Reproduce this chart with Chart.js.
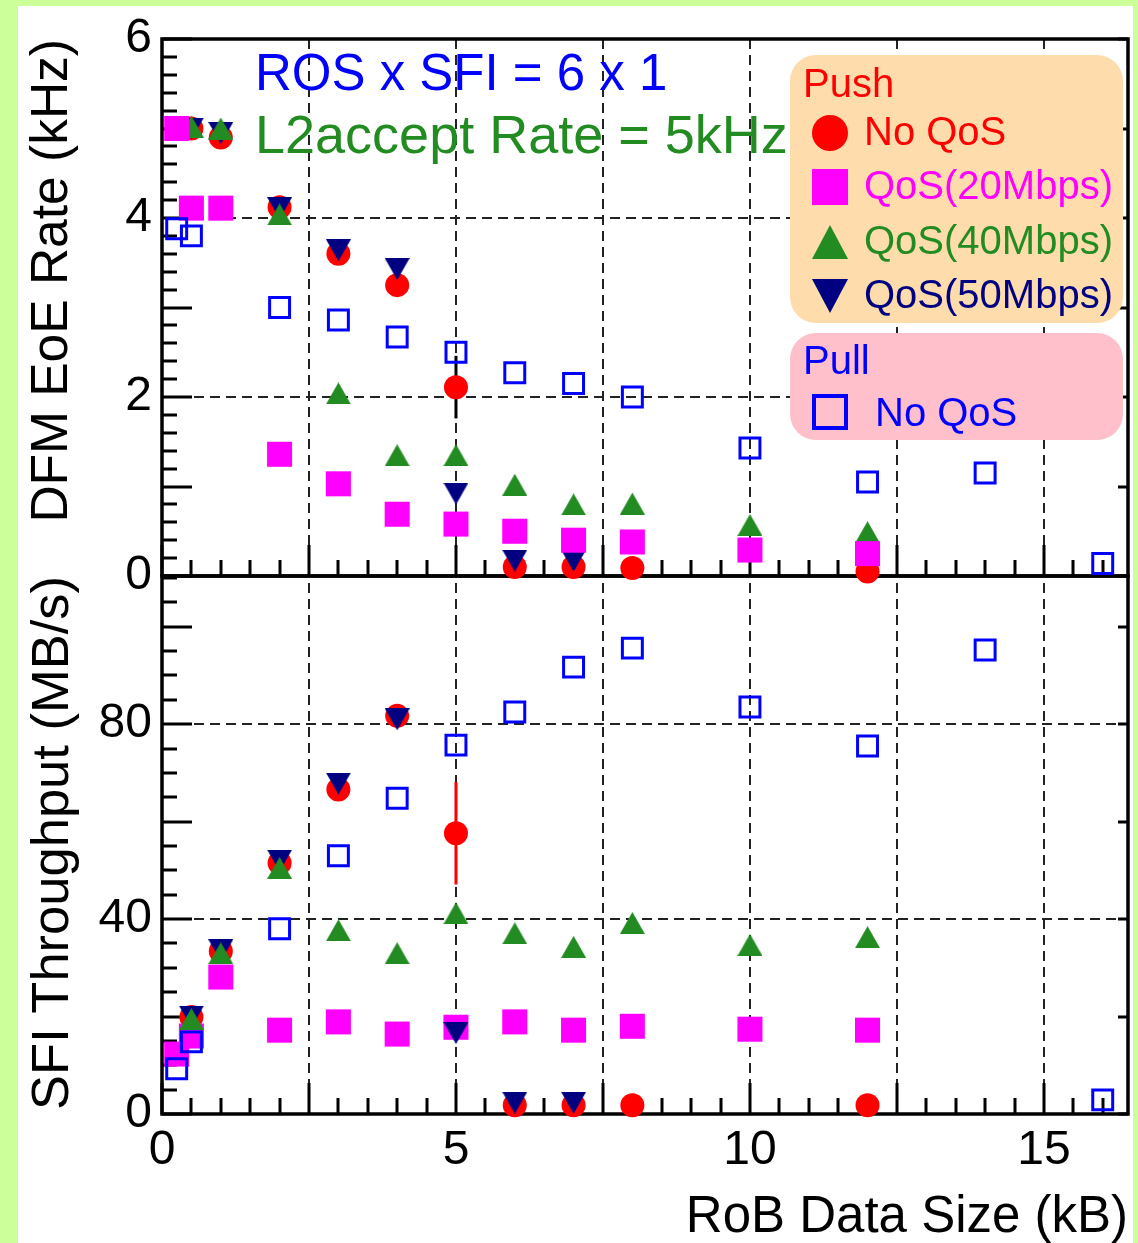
<!DOCTYPE html>
<html>
<head>
<meta charset="utf-8">
<script src="https://cdn.jsdelivr.net/npm/chart.js@4.4.0/dist/chart.umd.min.js"></script>
<style>
  html, body { margin: 0; padding: 0; background: #ccff99; overflow: hidden; }
  canvas { display: block; }
</style>
</head>
<body>
<canvas id="dfmChart" width="1138" height="1243"></canvas>
<script>
// RoB data size (kB) of each measurement
const robSizes = [0.25, 0.5, 1, 2, 3, 4, 5, 6, 7, 8, 10, 12, 14, 16];

// top panel: DFM EoE rate (kHz), null = no point
const rateNoQos = [null, 5.00, 4.90, 4.12, 3.60, 3.25, 2.11, 0.10, 0.10, 0.09, null, 0.05, null, null];
const rateQos20 = [5.00, 4.11, 4.11, 1.36, 1.03, 0.69, 0.58, 0.50, 0.40, 0.38, 0.29, 0.25, null, null];
const rateQos40 = [null, 5.02, 5.00, 4.04, 2.04, 1.35, 1.35, 1.02, 0.80, 0.81, 0.57, 0.49, null, null];
const rateQos50 = [null, 5.00, 4.95, 4.11, 3.64, 3.43, 0.92, 0.17, 0.17, null, null, null, null, null];
const ratePull  = [3.88, 3.80, null, 3.00, 2.86, 2.67, 2.50, 2.27, 2.15, 2.00, 1.43, 1.05, 1.15, 0.14];
const rateNoQosErr = [0, 0, 0, 0, 0, 0, 0.35, 0, 0, 0, 0, 0, 0, 0];

// bottom panel: SFI throughput (MB/s)
const tputNoQos = [null, 19.9, 33.4, 51.5, 66.6, 81.7, 57.6, 1.8, 1.8, 1.8, null, 1.8, null, null];
const tputQos20 = [12.3, 16.0, 28.1, 17.2, 18.9, 16.4, 17.8, 18.9, 17.2, 18.0, 17.4, 17.2, null, null];
const tputQos40 = [null, 19.5, 33.0, 50.5, 37.7, 33.0, 41.2, 37.1, 34.3, 39.2, 34.7, 36.3, null, null];
const tputQos50 = [null, 20.0, 33.6, 52.0, 67.8, 81.0, 16.6, 2.3, 2.3, null, null, null, null, null];
const tputPull  = [9.3, 14.8, null, 38.0, 53.0, 64.8, 75.7, 82.5, 91.7, 95.6, 83.5, 75.5, 95.2, 2.9];
const tputNoQosErr = [0, 0, 0, 0, 0, 0, 10.5, 0, 0, 0, 0, 0, 0, 0];

const RED = '#ff0000', MAGENTA = '#ff00ff', GREEN = '#228b22', NAVY = '#000080', BLUE = '#0000ff';

Chart.defaults.font.family = '"Liberation Sans", Arial, sans-serif';
Chart.defaults.color = '#000';

function toPoints(values) {
    return robSizes.map((x, i) => ({ x: x, y: values[i] })).filter(p => p.y !== null);
}

// ROOT style triangles, drawn so the bounding box is centred on the point
function triangleMarker(color, w, h, down) {
    const c = document.createElement('canvas');
    c.width = w;
    c.height = h;
    const g = c.getContext('2d');
    g.fillStyle = color;
    g.beginPath();
    if (down) {
        g.moveTo(0, 0); g.lineTo(w, 0); g.lineTo(w / 2, h);
    } else {
        g.moveTo(w / 2, 0); g.lineTo(w, h); g.lineTo(0, h);
    }
    g.closePath();
    g.fill();
    return c;
}
const triUpGreen = triangleMarker(GREEN, 25, 22, false);
const triDownNavy = triangleMarker(NAVY, 25, 22, true);

function series(values, axis, style) {
    return Object.assign({
        data: toPoints(values),
        yAxisID: axis,
        showLine: false,
        clip: false,
        pointBorderWidth: 0
    }, style);
}
const circle = { pointStyle: 'circle', pointRadius: 12, pointBackgroundColor: RED };
const square = { pointStyle: 'rect', pointRadius: 17.7, pointBackgroundColor: MAGENTA };
const triUp = { pointStyle: triUpGreen, pointRadius: 12 };
const triDown = { pointStyle: triDownNavy, pointRadius: 12 };
const openSquare = { pointStyle: 'rect', pointRadius: 14.1, pointBackgroundColor: 'rgba(0,0,0,0)',
                     pointBorderColor: BLUE, pointBorderWidth: 3 };

// first dataset is painted last (on top)
const datasets = [
    series(ratePull, 'yTop', openSquare),
    series(rateQos20, 'yTop', square),
    series(rateQos40, 'yTop', triUp),
    series(rateQos50, 'yTop', triDown),
    series(rateNoQos, 'yTop', circle),
    series(tputPull, 'yBot', openSquare),
    series(tputQos40, 'yBot', triUp),
    series(tputQos50, 'yBot', triDown),
    series(tputQos20, 'yBot', square),
    series(tputNoQos, 'yBot', circle)
];

function drawRounded(ctx, x, y, w, h, r, fill) {
    ctx.beginPath();
    ctx.moveTo(x + r, y);
    ctx.arcTo(x + w, y, x + w, y + h, r);
    ctx.arcTo(x + w, y + h, x, y + h, r);
    ctx.arcTo(x, y + h, x, y, r);
    ctx.arcTo(x, y, x + w, y, r);
    ctx.closePath();
    ctx.fillStyle = fill;
    ctx.fill();
}

const rootFrame = {
    id: 'rootFrame',
    beforeDraw(chart) {
        const ctx = chart.ctx;
        ctx.save();
        ctx.fillStyle = '#fff';
        ctx.fillRect(18, 6, 1115, 1237);
        ctx.restore();
    },
    beforeDatasetsDraw(chart) {
        const ctx = chart.ctx;
        const { left, right } = chart.chartArea;
        const xs = chart.scales.x;
        ctx.save();
        ctx.strokeStyle = '#000';
        ctx.lineCap = 'butt';
        const panels = [['yTop', 1, 0.2], ['yBot', 20, 5]];
        for (const [id, major, minor] of panels) {
            const ys = chart.scales[id];
            // y ticks, left (major + minor) and right (major)
            ctx.lineWidth = 3;
            ctx.beginPath();
            for (let k = 0; k * minor <= ys.max + 1e-9; k++) {
                const v = k * minor;
                const isMajor = Math.abs(v / major - Math.round(v / major)) < 1e-6;
                const py = Math.round(ys.getPixelForValue(v));
                ctx.moveTo(left, py);
                ctx.lineTo(left + (isMajor ? 30 : 15), py);
                if (isMajor) {
                    ctx.moveTo(right, py);
                    ctx.lineTo(right - 10, py);
                }
            }
            // x ticks on the lower edge of the panel
            for (let k = 0; k * 0.5 <= xs.max + 1e-9; k++) {
                const v = k * 0.5;
                const isMajor = k % 5 === 0;
                const px = Math.round(xs.getPixelForValue(v));
                ctx.moveTo(px, ys.bottom);
                ctx.lineTo(px, ys.bottom - (isMajor ? 31 : 16));
            }
            ctx.stroke();
            // frame
            ctx.lineWidth = 3.5;
            ctx.strokeRect(left, ys.top, right - left, ys.bottom - ys.top);
        }
        // error bars on the Push / No QoS points
        const bars = [['yTop', rateNoQos, rateNoQosErr, '#000'], ['yBot', tputNoQos, tputNoQosErr, RED]];
        for (const [id, vals, errs, color] of bars) {
            const ys = chart.scales[id];
            ctx.strokeStyle = color;
            ctx.lineWidth = 3;
            robSizes.forEach((x, i) => {
                if (vals[i] === null || !errs[i]) return;
                const px = xs.getPixelForValue(x);
                ctx.beginPath();
                ctx.moveTo(px, ys.getPixelForValue(vals[i] - errs[i]));
                ctx.lineTo(px, ys.getPixelForValue(vals[i] + errs[i]));
                ctx.stroke();
            });
        }
        ctx.restore();
    },
    afterDatasetsDraw(chart) {
        const ctx = chart.ctx;
        ctx.save();
        ctx.textBaseline = 'alphabetic';
        ctx.textAlign = 'left';
        ctx.font = '51px "Liberation Sans", Arial, sans-serif';
        ctx.fillStyle = BLUE;
        ctx.fillText('ROS x SFI = 6 x 1', 255, 90);
        ctx.font = '54px "Liberation Sans", Arial, sans-serif';
        ctx.fillStyle = GREEN;
        ctx.fillText('L2accept Rate = 5kHz', 255, 153);

        // legend boxes
        drawRounded(ctx, 790, 55, 333, 268, 26, '#fedcac');
        drawRounded(ctx, 790, 333, 333, 107, 26, '#ffc0cb');
        ctx.font = '40px "Liberation Sans", Arial, sans-serif';
        ctx.fillStyle = RED;
        ctx.fillText('Push', 803, 97);
        const rows = [
            ['No QoS', RED, 'circle', 133],
            ['QoS(20Mbps)', MAGENTA, 'square', 187],
            ['QoS(40Mbps)', GREEN, 'up', 242],
            ['QoS(50Mbps)', NAVY, 'down', 296]
        ];
        for (const [label, color, shape, cy] of rows) {
            const cx = 830;
            ctx.fillStyle = color;
            ctx.beginPath();
            if (shape === 'circle') {
                ctx.arc(cx, cy, 18, 0, Math.PI * 2);
            } else if (shape === 'square') {
                ctx.rect(cx - 18, cy - 18, 36, 36);
            } else if (shape === 'up') {
                ctx.moveTo(cx, cy - 17); ctx.lineTo(cx + 18, cy + 17); ctx.lineTo(cx - 18, cy + 17);
            } else {
                ctx.moveTo(cx - 18, cy - 17); ctx.lineTo(cx + 18, cy - 17); ctx.lineTo(cx, cy + 17);
            }
            ctx.closePath();
            ctx.fill();
            ctx.fillText(label, 864, cy + 12);
        }
        ctx.fillStyle = BLUE;
        ctx.fillText('Pull', 803, 374);
        ctx.strokeStyle = BLUE;
        ctx.lineWidth = 4;
        ctx.strokeRect(814, 396, 32, 32);
        ctx.fillText('No QoS', 875, 426);
        ctx.restore();
    }
};

const dashedGrid = { color: '#222', lineWidth: 2, drawTicks: false };
const gridBorder = { display: false, dash: [10, 6] };

// fixed axis sizes, no extra label overflow padding
function fixSize(w, h) {
    return s => {
        if (w) s.width = w;
        if (h) s.height = h;
        s.paddingLeft = 0;
        s.paddingRight = 0;
    };
}

new Chart(document.getElementById('dfmChart'), {
    type: 'scatter',
    data: { datasets: datasets },
    options: {
        responsive: false,
        animation: false,
        layout: { autoPadding: false, padding: { top: 39, right: 10, left: 0, bottom: 0 } },
        plugins: { legend: { display: false }, tooltip: { enabled: false } },
        scales: {
            x: {
                type: 'linear', position: 'bottom', min: 0, max: 16.43,
                afterFit: fixSize(0, 129),
                ticks: {
                    stepSize: 2.5, includeBounds: false, autoSkip: false, maxRotation: 0,
                    padding: 8, font: { size: 48 },
                    callback: v => (v % 5 === 0 ? String(v) : '')
                },
                grid: dashedGrid,
                border: gridBorder,
                title: {
                    display: true, text: 'RoB Data Size (kB)', align: 'end',
                    font: { size: 51, lineHeight: 1 }, padding: { top: 0, bottom: 0 }
                }
            },
            yBot: {
                type: 'linear', position: 'left', stack: 'panels', stackWeight: 538,
                min: 0, max: 110.4,
                afterFit: fixSize(162, 0),
                ticks: {
                    stepSize: 20, includeBounds: false, padding: 10, font: { size: 48 },
                    callback: v => (v % 40 === 0 ? String(v) : '')
                },
                grid: dashedGrid,
                border: gridBorder,
                title: {
                    display: true, text: 'SFI Throughput (MB/s)', align: 'end',
                    font: { size: 52.5, lineHeight: 1 }, padding: { top: 27, bottom: 0 }
                }
            },
            yTop: {
                type: 'linear', position: 'left', stack: 'panels', stackWeight: 537,
                min: 0, max: 6,
                afterFit: fixSize(162, 0),
                ticks: {
                    stepSize: 1, includeBounds: false, padding: 10, font: { size: 48 },
                    callback: v => (v % 2 === 0 ? String(v) : '')
                },
                grid: dashedGrid,
                border: gridBorder,
                title: {
                    display: true, text: 'DFM EoE Rate (kHz)', align: 'end',
                    font: { size: 51.5, lineHeight: 1 }, padding: { top: 27, bottom: 0 }
                }
            }
        }
    },
    plugins: [rootFrame]
});
</script>
</body>
</html>
